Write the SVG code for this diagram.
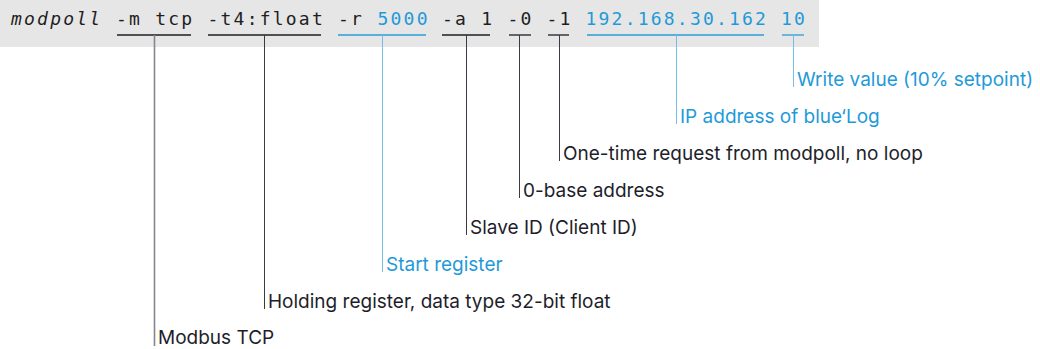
<svg xmlns="http://www.w3.org/2000/svg" width="1040" height="349" viewBox="0 0 1040 349">
<style>
.bg{fill:#e6e6e6}
.mono{font-family:"DejaVu Sans Mono","Liberation Mono",monospace;font-size:18px;letter-spacing:2.21px;fill:#1e1e22}
.mb{fill:#1f9ad8}
.ul{stroke:#1e1e22;stroke-width:1.3}
.ulb{stroke:#2a9bd6;stroke-width:1.3}
.ld{stroke:#3a3a44;stroke-width:1}
.lg{stroke:#85858e;stroke-width:1.6}
.lb{stroke:#74bfe6;stroke-width:1}
.lab{font-family:Inter,"Noto Sans",sans-serif;font-size:19px;fill:#1e1e2a}
.labb{fill:#1f9ad8}
</style>
<rect class="bg" x="0" y="0" width="819" height="47"/>
<g id="command">
<text class="mono" y="25"><tspan x="11" font-style="italic">modpoll</tspan><tspan x="116">-m tcp</tspan><tspan x="207.5">-t4:float</tspan><tspan x="338">-r</tspan><tspan x="377.5" class="mb">5000</tspan><tspan x="442">-a 1</tspan><tspan x="507.5">-0</tspan><tspan x="546.5">-1</tspan><tspan x="585.5" class="mb">192.168.30.162</tspan><tspan x="781" class="mb">10</tspan></text>
</g>
<g id="connectors">
<line class="ul" x1="117" y1="35" x2="191" y2="35"/>
<line class="ul" x1="208" y1="35" x2="321" y2="35"/>
<line class="ulb" x1="338" y1="35" x2="426" y2="35"/>
<line class="ul" x1="442" y1="35" x2="490" y2="35"/>
<line class="ul" x1="509" y1="35" x2="531" y2="35"/>
<line class="ul" x1="548" y1="35" x2="569" y2="35"/>
<line class="ulb" x1="587" y1="35" x2="764" y2="35"/>
<line class="ulb" x1="782" y1="35" x2="804" y2="35"/>
<line class="lb" x1="793.5" y1="35" x2="793.5" y2="87"/>
<line class="lb" x1="676.5" y1="35" x2="676.5" y2="124"/>
<line class="ld" x1="559.5" y1="35" x2="559.5" y2="161"/>
<line class="ld" x1="519.5" y1="35" x2="519.5" y2="198"/>
<line class="ld" x1="466.5" y1="35" x2="466.5" y2="235"/>
<line class="lb" x1="382.5" y1="35" x2="382.5" y2="272"/>
<line class="ld" x1="264.5" y1="35" x2="264.5" y2="309"/>
<line class="lg" x1="154.5" y1="35" x2="154.5" y2="346"/>
</g>
<g id="n-write"><text class="lab labb" x="797" y="86">Write value (10% setpoint)</text></g>
<g id="n-ip"><text class="lab labb" x="680" y="123">IP address of blue‘Log</text></g>
<g id="n-onetime"><text class="lab" x="563" y="160">One-time request from modpoll, no loop</text></g>
<g id="n-base"><text class="lab" x="523" y="197">0-base address</text></g>
<g id="n-slave"><text class="lab" x="470" y="234">Slave ID (Client ID)</text></g>
<g id="n-start"><text class="lab labb" x="386" y="271">Start register</text></g>
<g id="n-holding"><text class="lab" x="268" y="308">Holding register, data type 32-bit float</text></g>
<g id="n-modbus"><text class="lab" x="158" y="344">Modbus TCP</text></g>
</svg>
